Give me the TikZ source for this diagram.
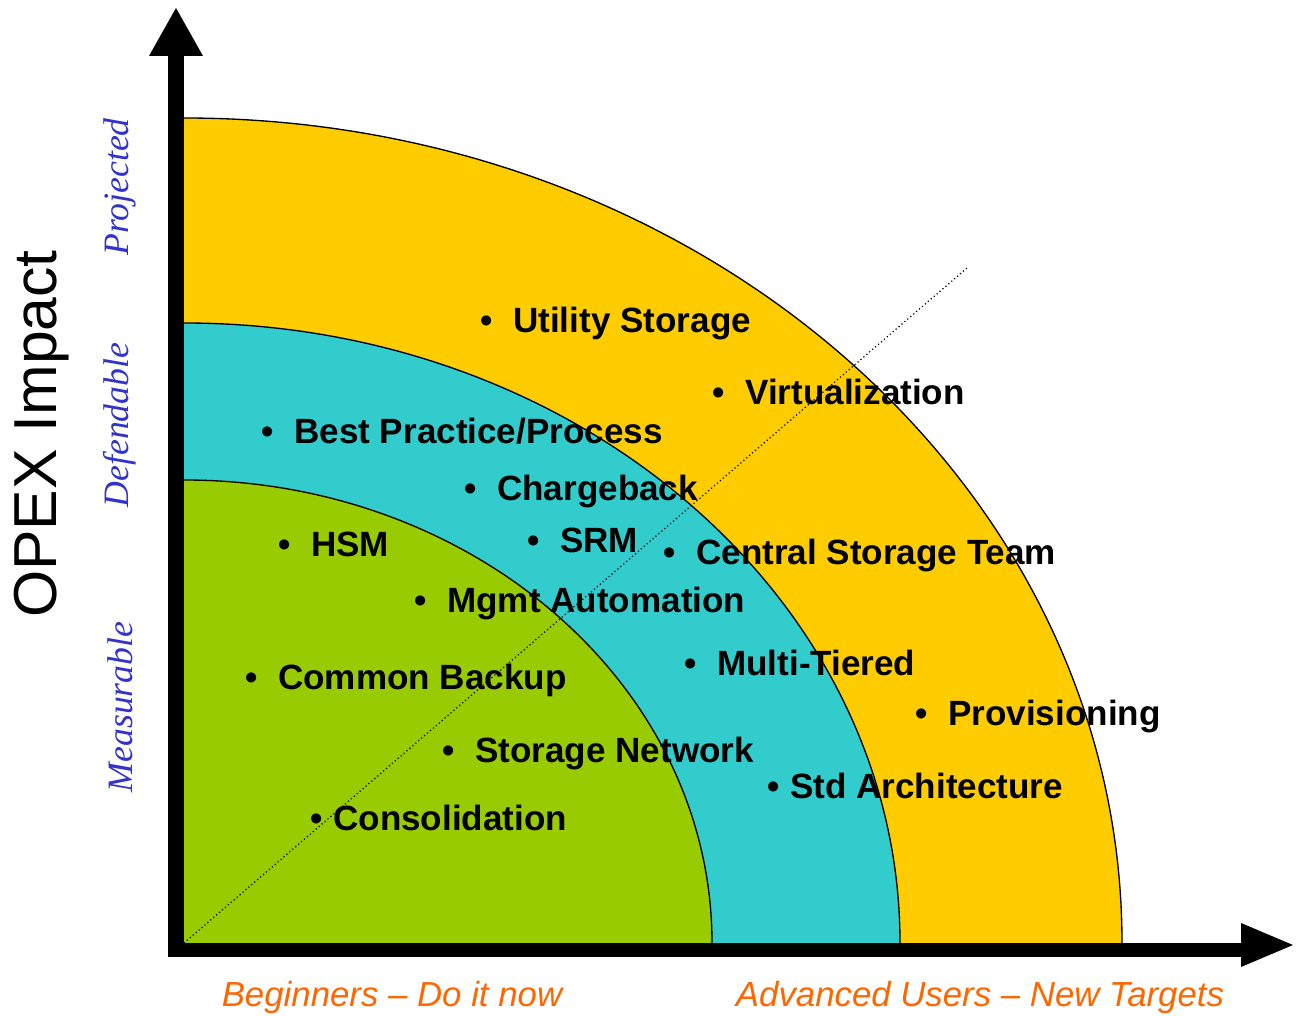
\documentclass[tikz,border=0pt]{standalone}
\usepackage{fontspec}
\setmainfont{Liberation Sans}
\newfontfamily\seriffont{Liberation Serif}
\definecolor{ylw}{HTML}{FFCC00}
\definecolor{cyn}{HTML}{33CCCC}
\definecolor{grn}{HTML}{99CC00}
\definecolor{lblue}{HTML}{3333CC}
\definecolor{orng}{HTML}{FF6600}
\begin{document}
\begin{tikzpicture}[x=0.75pt,y=0.75pt,
  item/.style={anchor=base west,inner sep=0pt,font=\fontsize{26.3}{30}\selectfont\bfseries},
  level/.style={rotate=90,inner sep=0pt,text=lblue,font=\seriffont\itshape\fontsize{26.8}{30}\selectfont},
  xlab/.style={inner sep=0pt,text=orng,font=\itshape\fontsize{26.1}{30}\selectfont},
  region/.style={draw=black,line width=1pt}]
\useasboundingbox (0,0) rectangle (1297,1015);
\coordinate (O) at (184,72);
% regions
\fill[ylw] (O) -- (184,897) arc[start angle=90,end angle=0,x radius=703.5pt,y radius=618.75pt] -- cycle;
\draw[line width=1pt] (184,897) arc[start angle=90,end angle=0,x radius=703.5pt,y radius=618.75pt];
\fill[cyn] (O) -- (184,692) arc[start angle=90,end angle=0,x radius=537pt,y radius=465pt] -- cycle;
\draw[line width=1pt] (184,692) arc[start angle=90,end angle=0,x radius=537pt,y radius=465pt];
\fill[grn] (O) -- (184,535) arc[start angle=90,end angle=0,x radius=396pt,y radius=347.25pt] -- cycle;
\draw[line width=1pt] (184,535) arc[start angle=90,end angle=0,x radius=396pt,y radius=347.25pt];
% diagonal
\coordinate (D) at (967,747);
\draw[dotted,line width=0.9pt] (O) -- (D);
% axes
\fill[black] (168,58) rectangle (184,959);
\fill[black] (149,959) -- (203,959) -- (176,1007) -- cycle;
\fill[black] (170,58) rectangle (1241,72);
\fill[black] (1241,92) -- (1241,48) -- (1293,70) -- cycle;
% axis labels
\node[rotate=90,inner sep=0pt,font=\fontsize{45.5}{50}\selectfont] (opex) at (42,581) {OPEX Impact};
\node[level] (proj) at (120,828) {Projected};
\node[level] (defe) at (120,590) {Defendable};
\node[level] (meas) at (120,308) {Measurable};
\node[xlab] (beg) at (392,17) {Beginners – Do it now};
\node[xlab] (adv) at (980,17) {Advanced Users – New Targets};
% items
\newcommand{\bul}{\llap{•\hspace{15pt}}}
\newcommand{\bulb}{\llap{•\hspace{8pt}}}
\node[item] (i1) at (513,682) {\bul Utility Storage};
\node[item] (i2) at (745,610) {\bul Virtualization};
\node[item] (i3) at (294,571) {\bul Best Practice/Process};
\node[item] (i4) at (497,514) {\bul Chargeback};
\node[item] (i5) at (311,458) {\bul HSM};
\node[item] (i6) at (560,462) {\bul SRM};
\node[item] (i7) at (696,450) {\bul Central Storage Team};
\node[item] (i8) at (447,402) {\bul Mgmt Automation};
\node[item] (i9) at (717,339) {\bul Multi-Tiered};
\node[item] (i10) at (278,325) {\bul Common Backup};
\node[item] (i11) at (948,289) {\bul Provisioning};
\node[item] (i12) at (475,252) {\bul Storage Network};
\node[item] (i13) at (790,216) {\bulb Std Architecture};
\node[item] (i14) at (333,184) {\bulb Consolidation};
\end{tikzpicture}
\end{document}
